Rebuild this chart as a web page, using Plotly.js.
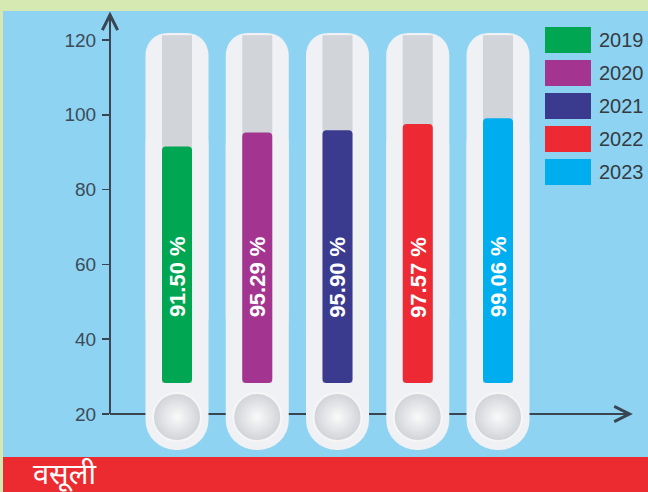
<!DOCTYPE html>
<html>
<head>
<meta charset="utf-8">
<script src="https://cdn.plot.ly/plotly-3.0.1.min.js"></script>
<style>html,body{margin:0;padding:0;background:#8ed4f2;}#chart{width:648px;height:492px;}</style>
</head>
<body>
<div id="chart"></div>
<script>
// ---- data ----
const years = ['2019', '2020', '2021', '2022', '2023'];
const values = [91.50, 95.29, 95.90, 97.57, 99.06];
const colors = ['#00a651', '#a3348f', '#3a3a8f', '#ed2a33', '#00aeef'];
const yTickVals = [20, 40, 60, 80, 100, 120];
const yTickText = ['20', '40', '60', '80', '100', '120'];
const footerText = 'वसूली';

// ---- decoration levels (axis units) ----
const tubeTop = 121.9, tubeBottom = 10.4;
const tubeUpperBase = 40, tubeLowerBase = 100;
const columnTop = 121.3, columnBase = 28.3;
const bulbLevel = 19.2, labelLevel = 56.6;

const W = 648, H = 492;
const idx = years.map((_, i) => i);
const labels = values.map(v => v.toFixed(2) + ' %');
const axisX = -0.835, arrowEndX = 5.68, yTop = 127.6;
const yRange = [-0.856, 130.7];
const xRange = [-2.2056, 5.869];
const axisColor = '#3a4552';

const traces = [
  { type: 'bar', x: idx, base: idx.map(() => tubeLowerBase), y: idx.map(() => tubeBottom - tubeLowerBase),
    width: 0.785, marker: { color: '#eff1f4', cornerradius: 30 }, hoverinfo: 'skip', showlegend: false },
  { type: 'bar', x: idx, base: idx.map(() => tubeUpperBase), y: idx.map(() => tubeTop - tubeUpperBase),
    width: 0.785, marker: { color: '#eff1f4', cornerradius: 22 }, hoverinfo: 'skip', showlegend: false },
  { type: 'bar', x: idx, base: idx.map(() => columnBase), y: idx.map(() => columnTop - columnBase),
    width: 0.374, marker: { color: '#d1d4d9' }, hoverinfo: 'skip', showlegend: false },
  { type: 'bar', x: idx, base: values, y: values.map(v => columnBase - v),
    width: 0.374, marker: { color: colors, cornerradius: 4 }, hoverinfo: 'skip', showlegend: false },
  { type: 'scatter', mode: 'markers', x: idx, y: idx.map(() => bulbLevel),
    marker: { size: 48, color: '#cfd2d7', gradient: { type: 'radial', color: '#fafafa' },
              line: { color: '#f6f6f6', width: 2 } }, hoverinfo: 'skip', showlegend: false }
];

const annotations = [];
values.forEach((v, i) => {
  annotations.push({ x: i, y: labelLevel, xref: 'x', yref: 'y', text: labels[i], textangle: -90,
    showarrow: false, font: { family: 'Liberation Sans, Arial, sans-serif', size: 22, color: '#ffffff', weight: 'bold' } });
});
// arrowheads
annotations.push({ x: axisX, y: yTop, ax: axisX, ay: yTop - 4, xref: 'x', yref: 'y', axref: 'x', ayref: 'y',
  text: ' ', font: { size: 1 }, showarrow: true, arrowhead: 5, arrowsize: 1.5, arrowwidth: 2, arrowcolor: axisColor, standoff: 0 });
annotations.push({ x: arrowEndX, y: 20, ax: arrowEndX - 0.2, ay: 20, xref: 'x', yref: 'y', axref: 'x', ayref: 'y',
  text: ' ', font: { size: 1 }, showarrow: true, arrowhead: 5, arrowsize: 1.5, arrowwidth: 2, arrowcolor: axisColor, standoff: 0 });

const shapes = [
  // backgrounds
  { type: 'rect', xref: 'paper', yref: 'paper', x0: 0, x1: 1, y0: 1 - 11 / H, y1: 1, fillcolor: '#d6e9b3', line: { width: 0 }, layer: 'below' },
  { type: 'rect', xref: 'paper', yref: 'paper', x0: 0, x1: 3 / W, y0: 0, y1: 1, fillcolor: '#d6e9b3', line: { width: 0 }, layer: 'below' },
  { type: 'rect', xref: 'paper', yref: 'paper', x0: 3 / W, x1: 1, y0: 0, y1: 1 - 457 / H, fillcolor: '#ec2b31', line: { width: 0 }, layer: 'below' },
  // axes lines
  { type: 'line', xref: 'x', yref: 'y', x0: axisX, x1: axisX, y0: 20, y1: yTop - 1, line: { color: axisColor, width: 2 }, layer: 'below' },
  { type: 'line', xref: 'x', yref: 'y', x0: axisX, x1: arrowEndX - 0.05, y0: 20, y1: 20, line: { color: axisColor, width: 2 }, layer: 'below' }
];

// custom legend
years.forEach((yr, i) => {
  const top = 27 + 33 * i;
  shapes.push({ type: 'rect', xref: 'paper', yref: 'paper', x0: 545 / W, x1: 591 / W,
    y0: 1 - (top + 26) / H, y1: 1 - top / H, fillcolor: colors[i], line: { width: 0 }, layer: 'below' });
  annotations.push({ xref: 'paper', yref: 'paper', x: 597 / W, y: 1 - (top + 13) / H, xanchor: 'left', yanchor: 'middle',
    text: yr, showarrow: false, font: { family: 'Liberation Sans, Arial, sans-serif', size: 20, color: '#353b42' } });
});

annotations.push({ xref: 'paper', yref: 'paper', x: 31 / W, y: 1 - 472 / H, xanchor: 'left', yanchor: 'middle',
  text: footerText, showarrow: false, font: { family: 'Noto Sans, sans-serif', size: 29, color: '#ffffff' } });

const axisBase = { range: yRange, tickvals: yTickVals, ticktext: yTickText, showgrid: false, zeroline: false,
  showline: false, anchor: 'free', position: 109 / W, tickcolor: axisColor, tickwidth: 1.5, fixedrange: true };

const layout = {
  width: W, height: H,
  margin: { l: 0, r: 0, t: 0, b: 0, pad: 0 },
  paper_bgcolor: '#8ed4f2', plot_bgcolor: 'rgba(0,0,0,0)',
  barmode: 'overlay', showlegend: false,
  xaxis: { range: xRange, visible: false, fixedrange: true },
  yaxis: Object.assign({}, axisBase, { ticks: 'outside', ticklen: 7, ticklabelstandoff: 2,
    tickfont: { family: 'Liberation Sans, Arial, sans-serif', size: 19, color: '#3d4a58' } }),
  yaxis2: Object.assign({}, axisBase, { overlaying: 'y', ticks: 'inside', ticklen: 8, showticklabels: false }),
  shapes: shapes, annotations: annotations
};

Plotly.newPlot('chart', traces, layout, { displayModeBar: false, staticPlot: true });
</script>
</body>
</html>
